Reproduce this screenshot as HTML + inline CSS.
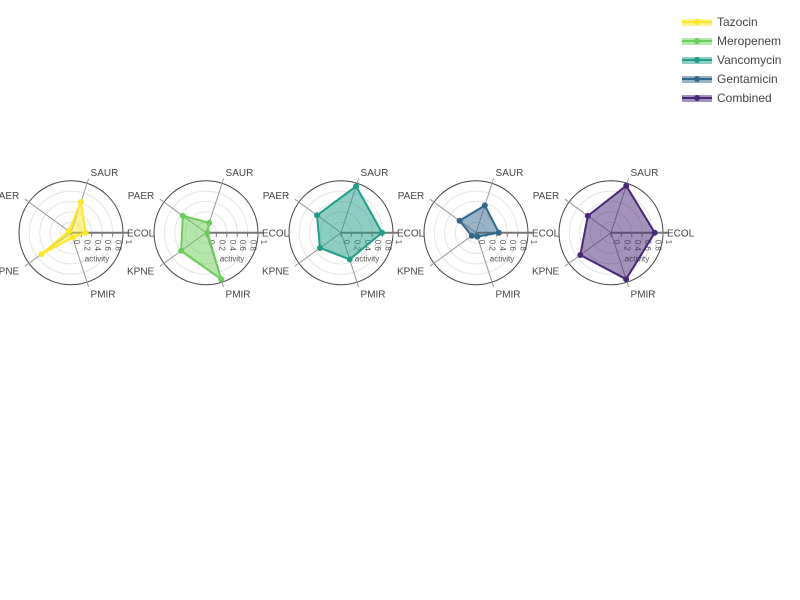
<!DOCTYPE html>
<html><head><meta charset="utf-8"><style>
body{margin:0;background:#fff;}
svg{display:block;font-family:"Liberation Sans",sans-serif;}
</style></head><body>
<svg id="c" width="800" height="600"></svg>
<script>
const axesLabels=["ECOL","SAUR","PAER","KPNE","PMIR"];
const seriesNames=["Tazocin","Meropenem","Vancomycin","Gentamicin","Combined"];
const tazocin=[0.28,0.62,0.05,0.7,0.1];
const meropenem=[0.03,0.2,0.55,0.59,0.94];
const vancomycin=[0.79,0.94,0.57,0.5,0.54];
const gentamicin=[0.44,0.55,0.39,0.1,0.08];
const combined=[0.84,0.95,0.55,0.73,0.94];
const radialTicks=["0","0.2","0.4","0.6","0.8","1"];
const colors=["#fde725","#6ccd5a","#1f9e89","#31688e","#482878"];
const allSeries=[tazocin,meropenem,vancomycin,gentamicin,combined];
const NS="http://www.w3.org/2000/svg";
const svg=document.getElementById('c');
function mk(t,a,p){const e=document.createElementNS(NS,t);for(const k in a)e.setAttribute(k,a[k]);(p||svg).appendChild(e);return e;}
const R=52,cy=232.7;
const rScale=v=>v*R;
const ang=i=>i*2*Math.PI/axesLabels.length;
allSeries.forEach((vals,s)=>{
  const cx=71+s*135;
  const g=mk('g',{});
  
  
  for(let k=1;k<=4;k++){const c=mk('circle',{cx,cy,r:rScale(k*0.2),fill:'none',stroke:'#e4e4e4','stroke-width':1},g);
    }
  const oc=mk('circle',{cx,cy,r:R,fill:'none',stroke:'#444','stroke-width':1},g);
  
  axesLabels.forEach((lab,i)=>{
    const a=ang(i),dx=Math.cos(a),dy=-Math.sin(a);
    if(i>0){const l=mk('line',{x1:cx,y1:cy,x2:cx+dx*(R+5),y2:cy+dy*(R+5),stroke:'#999','stroke-width':1},g);
      }
    const tx=cx+dx*(R+12),ty=cy+dy*(R+12)+4;
    const t=mk('text',{x:tx,y:ty,'font-size':10,fill:'#444','text-anchor':Math.abs(dx)<0.4?'middle':(dx>0?'start':'end')},g);
    if(i===0){t.setAttribute('x',cx+R+4);}
    if(i===1||i===4){t.setAttribute('text-anchor','start');t.setAttribute('x',cx+dx*(R+8)+1);}
    t.textContent=lab;
    
  });
  const ra=mk('line',{x1:cx,y1:cy,x2:cx+R+5,y2:cy,stroke:'#777','stroke-width':2},g);
  
  radialTicks.forEach((tl,k)=>{
    const x=cx+rScale(k*0.2);
    const tk=mk('line',{x1:x,y1:cy,x2:x,y2:cy+4,stroke:'#777','stroke-width':1},g);
    
    const t=mk('text',{x:0,y:0,'font-size':8,fill:'#555',transform:`translate(${x+3},${cy+7}) rotate(90)`},g);
    t.textContent=tl;
  });
  const at=mk('text',{x:cx+R*0.5,y:cy+29,'font-size':8,fill:'#555','text-anchor':'middle'},g);
  at.textContent='activity';
  const pts=vals.map((v,i)=>[cx+Math.cos(ang(i))*rScale(v),cy-Math.sin(ang(i))*rScale(v)]);
  const pg=mk('polygon',{points:pts.map(p=>p.join(',')).join(' '),fill:colors[s],'fill-opacity':0.5,stroke:colors[s],'stroke-width':2,'stroke-linejoin':'round'},g);
  
  pts.forEach(p=>{const d=mk('circle',{cx:p[0],cy:p[1],r:3,fill:colors[s]},g);
    });
});
seriesNames.forEach((n,s)=>{
  const y=22+s*19;
  const g=mk('g',{});
  
  mk('rect',{x:682,y:y-3,width:30,height:7,fill:colors[s],'fill-opacity':0.5},g);
  mk('line',{x1:682,y1:y,x2:712,y2:y,stroke:colors[s],'stroke-width':2},g);
  mk('circle',{cx:697,cy:y,r:3,fill:colors[s]},g);
  const t=mk('text',{x:717,y:y+4,'font-size':12,fill:'#444'},g);t.textContent=n;
});
</script>
</body></html>
